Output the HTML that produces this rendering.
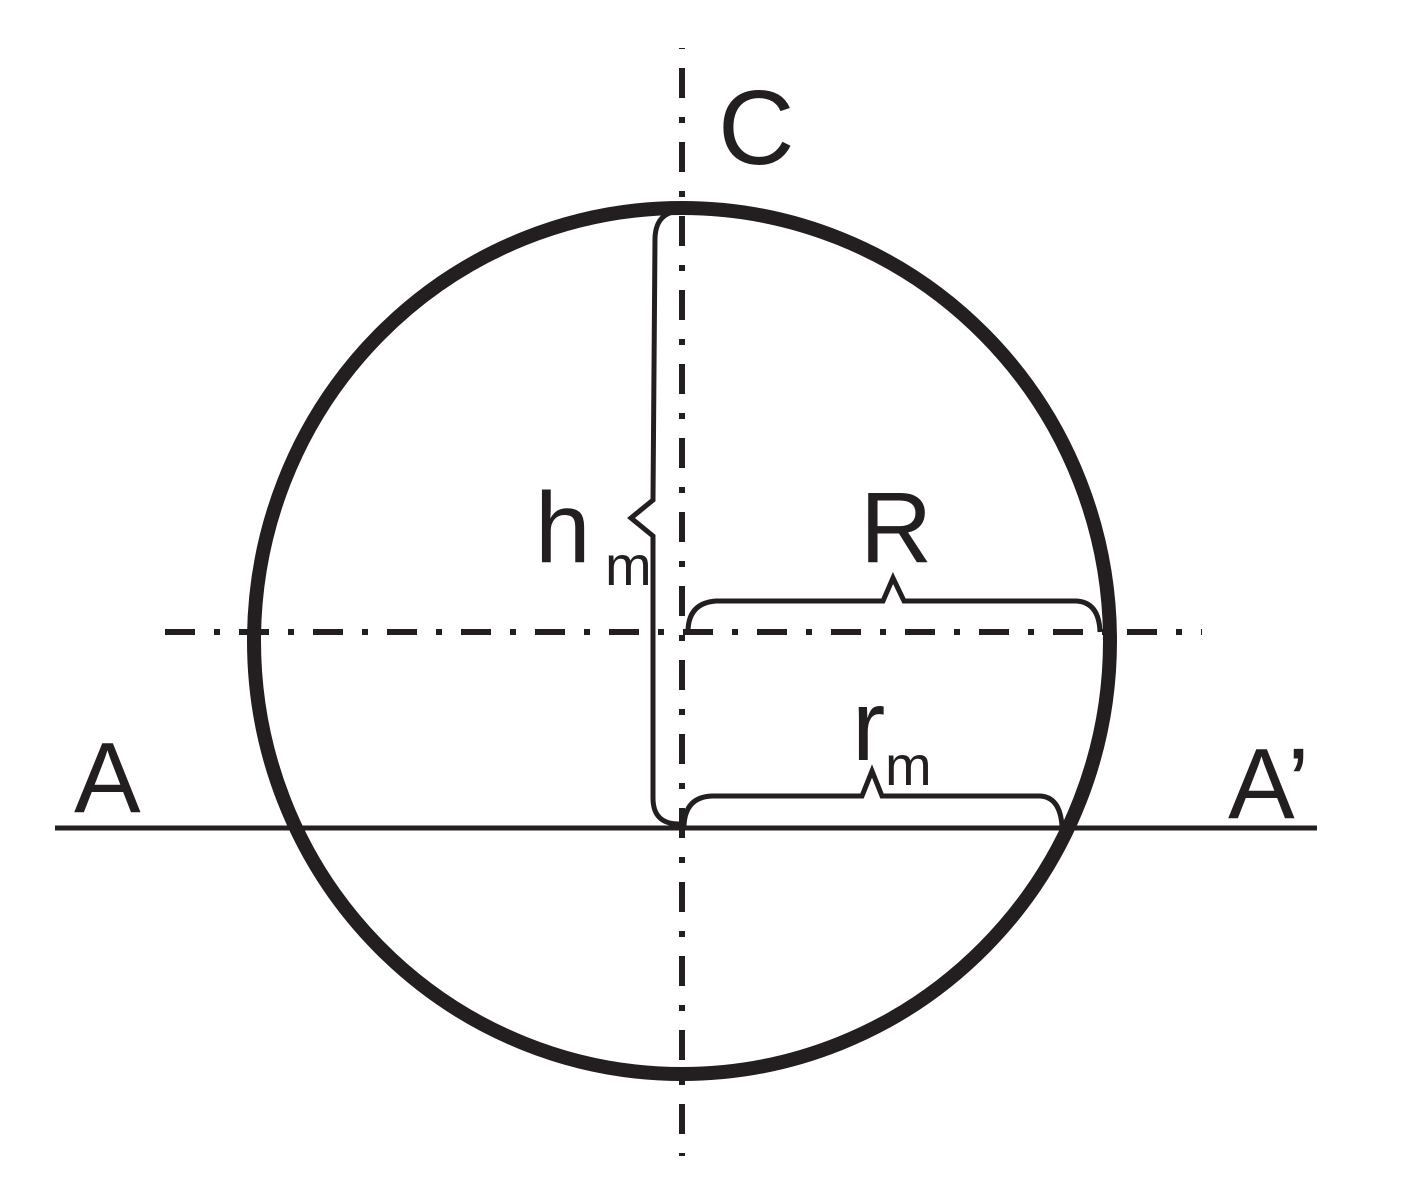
<!DOCTYPE html>
<html><head><meta charset="utf-8"><style>html,body{margin:0;padding:0;background:#fff}</style></head>
<body>
<svg width="1402" height="1187" viewBox="0 0 1402 1187" xmlns="http://www.w3.org/2000/svg">
<g stroke="#231f20" fill="none">
<line x1="682" y1="48" x2="682" y2="1156" stroke-width="6" stroke-dasharray="30,19,6,19" stroke-dashoffset="-20"/>
<line x1="165" y1="632" x2="1202" y2="632" stroke-width="6" stroke-dasharray="30,19,6,19"/>
<line x1="55" y1="828" x2="1317" y2="828" stroke-width="5"/>
<ellipse cx="682" cy="641" rx="428" ry="433" stroke-width="14"/>
<path d="M682 211 Q656 211 655 238 L653 500 L631 518 L653 536 L653 798 Q653 824 679 824" stroke-width="5"/>
<path d="M688 632 Q688 603 716 601 L883 601 L893 578 L904 601 L1076 601 Q1099 602 1100 632" stroke-width="5"/>
<path d="M684 826 Q685 797 712 796 L862 796 L872 771 L882 796 L1040 796 Q1060 797 1062 826" stroke-width="5"/>
</g>
<g fill="#231f20" font-family="Liberation Sans, sans-serif">
<text x="718" y="164" font-size="106">C</text>
<text x="860" y="562" font-size="100">R</text>
<text x="535" y="562" font-size="100">h</text>
<text x="605" y="585" font-size="56">m</text>
<text x="852" y="760" font-size="100">r</text>
<text x="885" y="785" font-size="56">m</text>
<text x="74" y="812" font-size="100">A</text>
<text x="1228" y="818" font-size="100">A’</text>
</g>
</svg>
</body></html>
